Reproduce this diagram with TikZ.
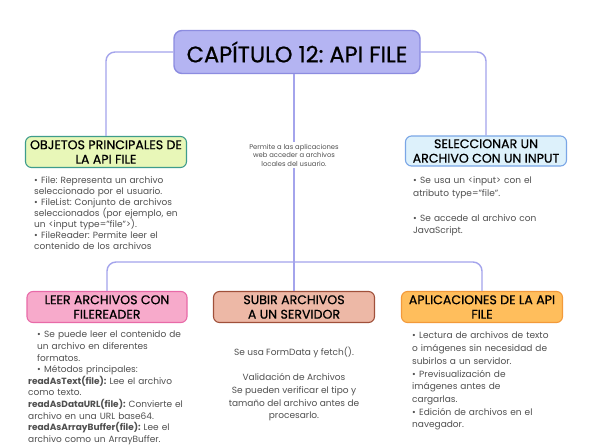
\documentclass[tikz,border=0pt]{standalone}
\usepackage{fontspec}
\setmainfont{Poppins}
\newfontfamily\headfont{Poppins}[FakeBold=0.7]
\frenchspacing
\definecolor{titlefill}{HTML}{B4B4F2}
\definecolor{titledraw}{HTML}{8C8CE0}
\definecolor{connc}{HTML}{A4A4EC}
\definecolor{objfill}{HTML}{E8F7B8}
\definecolor{objdraw}{HTML}{3E9C8C}
\definecolor{selfill}{HTML}{DDF1FB}
\definecolor{seldraw}{HTML}{7AA6E6}
\definecolor{leerfill}{HTML}{F7AACB}
\definecolor{leerdraw}{HTML}{E86AA8}
\definecolor{subfill}{HTML}{EDB8A6}
\definecolor{subdraw}{HTML}{A0503A}
\definecolor{apfill}{HTML}{FFBE5C}
\definecolor{apdraw}{HTML}{F39A3A}
\definecolor{bodyc}{HTML}{505050}
\newcommand\bul[1]{\par\hangindent=7pt\hangafter=1\noindent\makebox[7pt][l]{\textbullet}#1}
\tikzset{
  headbox/.style={draw, rounded corners=6pt, line width=1.1pt, minimum width=161pt, minimum height=31pt,
    align=center, inner sep=0pt, font=\headfont\fontsize{12.6}{14.5}\selectfont, text=black},
  conn/.style={draw=connc, line width=1.4pt, rounded corners=9pt},
  bodytext/.style={text=bodyc, align=left, inner sep=0pt, anchor=north west},
}
\begin{document}
\begin{tikzpicture}[x=1pt,y=-1pt]
\useasboundingbox[fill=white] (0,0) rectangle (589,447);
% title
\node[draw=titledraw, fill=titlefill, rounded corners=8pt, line width=1.4pt, minimum width=246pt, minimum height=43pt,
  inner sep=0pt, font=\headfont\fontsize{22.5}{24}\selectfont] (title) at (297,52) {CAPÍTULO 12: API FILE};
% headings
\node[headbox, draw=objdraw, fill=objfill] (obj) at (106,152) {OBJETOS PRINCIPALES DE\\LA API FILE};
\node[headbox, draw=seldraw, fill=selfill, minimum height=30pt] (sel) at (486,151) {SELECCIONAR UN\\ARCHIVO CON UN INPUT};
\node[headbox, draw=leerdraw, fill=leerfill, minimum width=160pt] (leer) at (107,307) {LEER ARCHIVOS CON\\FILEREADER};
\node[headbox, draw=subdraw, fill=subfill] (sub) at (294,307) {SUBIR ARCHIVOS\\A UN SERVIDOR};
\node[headbox, draw=apdraw, fill=apfill] (ap) at (482,307) {APLICACIONES DE LA API\\FILE};
% center description
\node[text=bodyc, align=center, inner sep=2pt, font=\fontsize{6.8}{8.5}\selectfont] (desc) at (294,155)
  {Permite a las aplicaciones\\web acceder a archivos\\locales del usuario.};
% connectors
\coordinate (hub) at (294,262);
\draw[conn] (title.west) -| (obj.north);
\draw[conn] (title.east) -| (sel.north);
\draw[conn, rounded corners=0pt] (title.south -| desc.north) -- (desc.north);
\draw[conn, rounded corners=0pt] (desc.south) -- (sub.north);
\draw[conn] (leer.north) |- (hub) -| (ap.north);
% body texts
\node[bodytext, text width=185pt, font=\fontsize{9}{11}\selectfont] (objtxt) at (34,172) {%
\bul{File: Representa un archivo\\seleccionado por el usuario.}
\bul{FileList: Conjunto de archivos\\seleccionados (por ejemplo, en\\un <input type="file">).}
\bul{FileReader: Permite leer el\\contenido de los archivos}};
\node[bodytext, text width=185pt, font=\fontsize{9}{12.5}\selectfont] (seltxt) at (413,171) {%
\bul{Se usa un <input> con el\\atributo type="file".}\par\vspace{12.5pt}
\bul{Se accede al archivo con\\JavaScript.}};
\node[bodytext, text width=185pt, font=\fontsize{9}{11.6}\selectfont] (leertxt) at (28,326) {%
\leftskip=9pt
\bul{Se puede leer el contenido de\\un archivo en diferentes\\formatos.}
\bul{Métodos principales:}\par\leftskip=0pt\noindent
\textbf{readAsText(file):} Lee el archivo\\como texto.\\
\textbf{readAsDataURL(file):} Convierte el\\archivo en una URL base64.\\
\textbf{readAsArrayBuffer(file):} Lee el\\archivo como un ArrayBuffer.};
\node[text=bodyc, align=center, inner sep=0pt, font=\fontsize{9}{12.6}\selectfont, anchor=north] (subtxt) at (294,347) {%
Se usa FormData y fetch().\\[12.6pt]
Validación de Archivos\\Se pueden verificar el tipo y\\tamaño del archivo antes de\\procesarlo.};
\node[bodytext, text width=185pt, font=\fontsize{9}{12.7}\selectfont] (aptxt) at (412,326) {%
\bul{Lectura de archivos de texto\\o imágenes sin necesidad de\\subirlos a un servidor.}
\bul{Previsualización de\\imágenes antes de\\cargarlas.}
\bul{Edición de archivos en el\\navegador.}};
\end{tikzpicture}
\end{document}
